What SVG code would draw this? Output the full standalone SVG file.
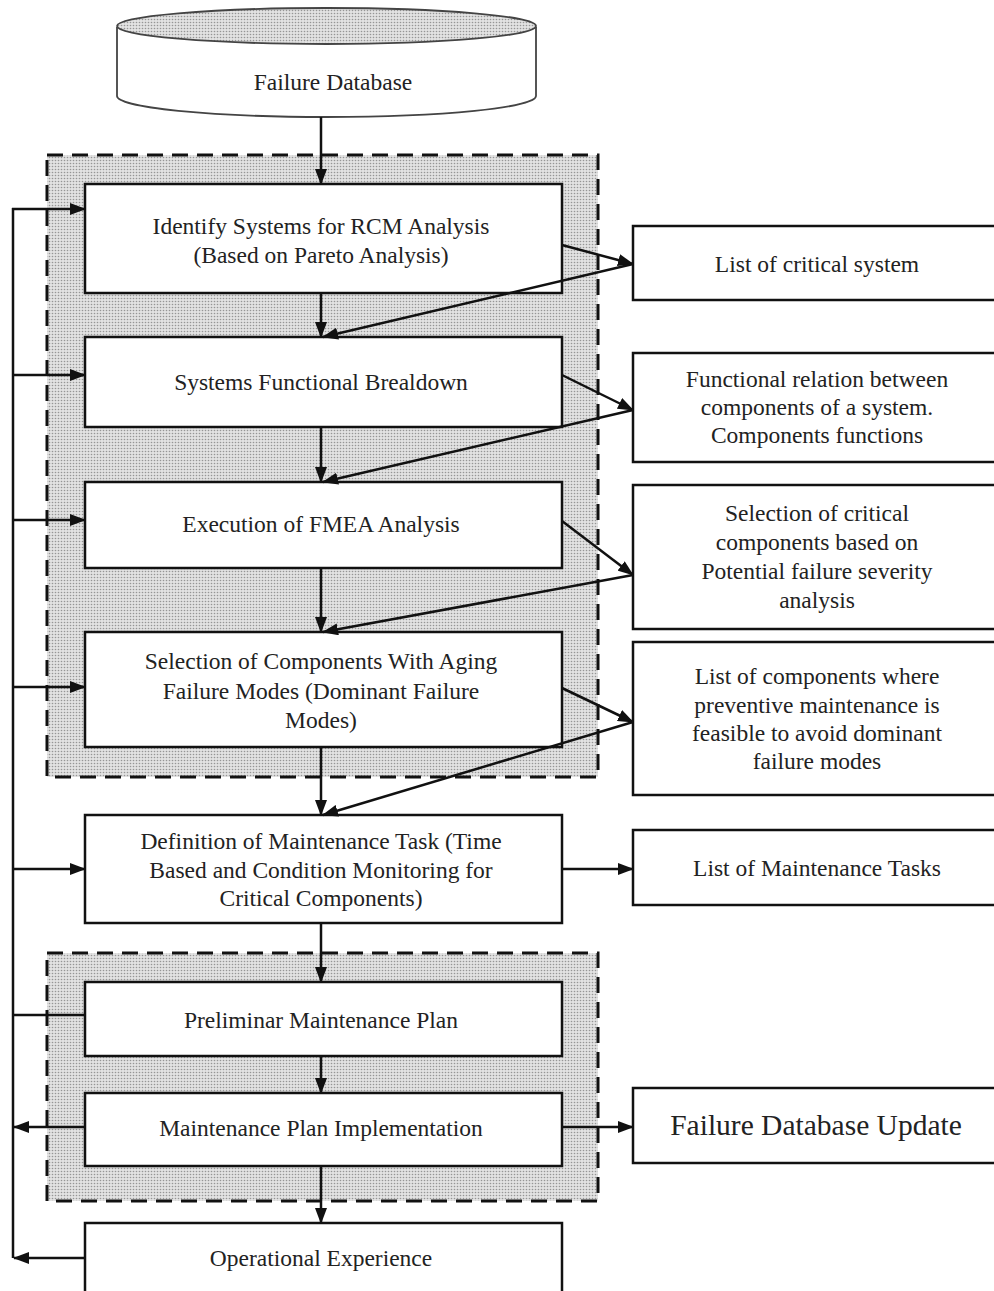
<svg xmlns="http://www.w3.org/2000/svg" width="994" height="1291" viewBox="0 0 994 1291">
<style>
.box{fill:#fff;stroke:#111;stroke-width:2.5}
.grp{fill:url(#dots);stroke:#111;stroke-width:3;stroke-dasharray:16 9}
.ln{fill:none;stroke:#111;stroke-width:2.5}
.t{font-family:"Liberation Serif","Times New Roman",serif;font-size:23.5px;fill:#222;text-anchor:middle}
.big{font-size:29.5px}
</style>
<defs>
<pattern id="dots" width="3" height="3" patternUnits="userSpaceOnUse">
<rect width="3" height="3" fill="#e2e2e2"/>
<circle cx="1.5" cy="1.5" r="0.8" fill="#969696"/>
</pattern>
<marker id="ah" markerWidth="16" markerHeight="12" refX="15" refY="6" orient="auto" markerUnits="userSpaceOnUse">
<path d="M0,0 L16,6 L0,12 z" fill="#111"/>
</marker>
</defs>

<g id="group1"><rect class="grp" x="47" y="155" width="551" height="622"/></g>
<g id="group2"><rect class="grp" x="47" y="953" width="551" height="248"/></g>

<g id="failure-database">
<path d="M117,27 L117,96 A209.5,21 0 0 0 536,96 L536,27" fill="#fff" stroke="#444" stroke-width="1.8"/>
<ellipse cx="326.5" cy="26" rx="209.5" ry="18" fill="url(#dots)" stroke="#444" stroke-width="1.8"/>
<text class="t" x="333" y="90">Failure Database</text>
</g>

<g id="identify"><rect class="box" x="85" y="184" width="477" height="109"/>
<text class="t" x="321" y="234">Identify Systems for RCM Analysis</text>
<text class="t" x="321" y="263">(Based on Pareto Analysis)</text></g>

<g id="breakdown"><rect class="box" x="85" y="337" width="477" height="90"/>
<text class="t" x="321" y="390">Systems Functional Brealdown</text></g>

<g id="fmea"><rect class="box" x="85" y="482" width="477" height="86"/>
<text class="t" x="321" y="532">Execution of FMEA Analysis</text></g>

<g id="selection"><rect class="box" x="85" y="632" width="477" height="115"/>
<text class="t" x="321" y="669">Selection of Components With Aging</text>
<text class="t" x="321" y="699">Failure Modes (Dominant Failure</text>
<text class="t" x="321" y="728">Modes)</text></g>

<g id="definition"><rect class="box" x="85" y="815" width="477" height="108"/>
<text class="t" x="321" y="849">Definition of Maintenance Task (Time</text>
<text class="t" x="321" y="878">Based and Condition Monitoring for</text>
<text class="t" x="321" y="906">Critical Components)</text></g>

<g id="preliminar"><rect class="box" x="85" y="982" width="477" height="74"/>
<text class="t" x="321" y="1028">Preliminar Maintenance Plan</text></g>

<g id="implementation"><rect class="box" x="85" y="1093" width="477" height="73"/>
<text class="t" x="321" y="1136">Maintenance Plan Implementation</text></g>

<g id="operational"><rect class="box" x="85" y="1223" width="477" height="80"/>
<text class="t" x="321" y="1266">Operational Experience</text></g>

<g id="critical-system"><rect class="box" x="633" y="226" width="370" height="74"/>
<text class="t" x="817" y="272">List of critical system</text></g>

<g id="functional-relation"><rect class="box" x="633" y="353" width="370" height="109"/>
<text class="t" x="817" y="387">Functional relation between</text>
<text class="t" x="817" y="415">components of a system.</text>
<text class="t" x="817" y="443">Components functions</text></g>

<g id="critical-components"><rect class="box" x="633" y="485" width="370" height="144"/>
<text class="t" x="817" y="521">Selection of critical</text>
<text class="t" x="817" y="550">components based on</text>
<text class="t" x="817" y="579">Potential failure severity</text>
<text class="t" x="817" y="608">analysis</text></g>

<g id="components-list"><rect class="box" x="633" y="642" width="370" height="153"/>
<text class="t" x="817" y="684">List of components where</text>
<text class="t" x="817" y="713">preventive maintenance is</text>
<text class="t" x="817" y="741">feasible to avoid dominant</text>
<text class="t" x="817" y="769">failure modes</text></g>

<g id="tasks-list"><rect class="box" x="633" y="830" width="370" height="75"/>
<text class="t" x="817" y="876">List of Maintenance Tasks</text></g>

<g id="db-update"><rect class="box" x="633" y="1088" width="370" height="75"/>
<text class="t big" x="816" y="1135">Failure Database Update</text></g>

<g id="connectors">
<line class="ln" x1="321" y1="117" x2="321" y2="184" marker-end="url(#ah)"/>
<line class="ln" x1="321" y1="293" x2="321" y2="337" marker-end="url(#ah)"/>
<line class="ln" x1="321" y1="427" x2="321" y2="482" marker-end="url(#ah)"/>
<line class="ln" x1="321" y1="568" x2="321" y2="632" marker-end="url(#ah)"/>
<line class="ln" x1="321" y1="747" x2="321" y2="815" marker-end="url(#ah)"/>
<line class="ln" x1="321" y1="923" x2="321" y2="982" marker-end="url(#ah)"/>
<line class="ln" x1="321" y1="1056" x2="321" y2="1093" marker-end="url(#ah)"/>
<line class="ln" x1="321" y1="1166" x2="321" y2="1223" marker-end="url(#ah)"/>

<line class="ln" x1="562" y1="245" x2="633" y2="264" marker-end="url(#ah)"/>
<line class="ln" x1="633" y1="264" x2="323" y2="337" marker-end="url(#ah)"/>
<line class="ln" x1="562" y1="375" x2="633" y2="410" marker-end="url(#ah)"/>
<line class="ln" x1="633" y1="410" x2="323" y2="482" marker-end="url(#ah)"/>
<line class="ln" x1="562" y1="521" x2="633" y2="575" marker-end="url(#ah)"/>
<line class="ln" x1="633" y1="575" x2="323" y2="632" marker-end="url(#ah)"/>
<line class="ln" x1="562" y1="688" x2="633" y2="722" marker-end="url(#ah)"/>
<line class="ln" x1="633" y1="722" x2="323" y2="815" marker-end="url(#ah)"/>

<line class="ln" x1="562" y1="869" x2="633" y2="869" marker-end="url(#ah)"/>
<line class="ln" x1="562" y1="1127" x2="633" y2="1127" marker-end="url(#ah)"/>

<line class="ln" x1="13" y1="208" x2="13" y2="1258"/>
<line class="ln" x1="12" y1="209" x2="85" y2="209" marker-end="url(#ah)"/>
<line class="ln" x1="12" y1="375" x2="85" y2="375" marker-end="url(#ah)"/>
<line class="ln" x1="12" y1="520" x2="85" y2="520" marker-end="url(#ah)"/>
<line class="ln" x1="12" y1="687" x2="85" y2="687" marker-end="url(#ah)"/>
<line class="ln" x1="12" y1="869" x2="85" y2="869" marker-end="url(#ah)"/>
<line class="ln" x1="12" y1="1015" x2="85" y2="1015"/>
<line class="ln" x1="85" y1="1127" x2="14" y2="1127" marker-end="url(#ah)"/>
<line class="ln" x1="85" y1="1258" x2="14" y2="1258" marker-end="url(#ah)"/>
</g>
</svg>
